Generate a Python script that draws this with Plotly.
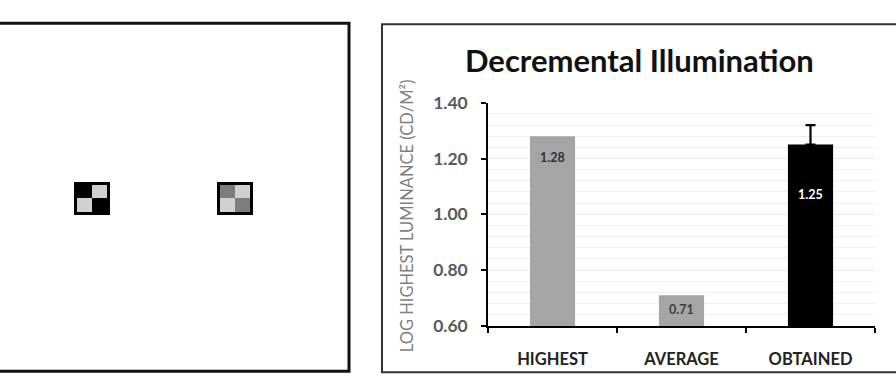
import plotly.graph_objects as go

W, H = 896, 386

# ---- data ----
categories = ["HIGHEST", "AVERAGE", "OBTAINED"]
values = [1.28, 0.71, 1.25]
err_plus = [0, 0, 0.07]
bar_colors = ["#a5a5a5", "#a5a5a5", "#000000"]
label_colors = ["#333333", "#404040", "#ffffff"]
label_offsets = [-21, -14, -50]
y_ticks = [0.60, 0.80, 1.00, 1.20, 1.40]

# checkerboard stimuli (0 = black, 1 = mid grey, 2 = light grey), bottom row first
checker_left = [[2, 0], [0, 2]]
checker_right = [[2, 1], [1, 2]]


def px(x):
    return x / W


def py(y):
    return 1 - y / H


fig = go.Figure()

fig.add_trace(go.Bar(
    x=categories, y=values,
    marker=dict(color=bar_colors, line=dict(width=0)),
    width=0.35,
    hoverinfo="skip", showlegend=False,
    xaxis="x", yaxis="y",
))

# error bars only where an error is given
e_idx = [i for i, e in enumerate(err_plus) if e > 0]
fig.add_trace(go.Scatter(
    x=[categories[i] for i in e_idx], y=[values[i] for i in e_idx],
    mode="markers", marker=dict(size=1, opacity=0),
    error_y=dict(type="data", symmetric=False, array=[err_plus[i] for i in e_idx],
                 arrayminus=[0 for _ in e_idx], color="#000000", thickness=2.2, width=5),
    hoverinfo="skip", showlegend=False, xaxis="x", yaxis="y",
))

for i, (c, v) in enumerate(zip(categories, values)):
    fig.add_annotation(x=c, y=v, xref="x", yref="y", text=f"{v:.2f}",
                       showarrow=False, yshift=label_offsets[i],
                       font=dict(family="Lato", size=12.5, color=label_colors[i], weight="bold"))

cs = [[0, "#000000"], [0.5, "#7d7d7d"], [1, "#d0d0d0"]]
fig.add_trace(go.Heatmap(z=checker_left, colorscale=cs, zmin=0, zmax=2, showscale=False,
                         hoverinfo="skip", xaxis="x2", yaxis="y2"))
fig.add_trace(go.Heatmap(z=checker_right, colorscale=cs, zmin=0, zmax=2, showscale=False,
                         hoverinfo="skip", xaxis="x3", yaxis="y3"))

sq_ax = dict(showgrid=False, zeroline=False, showticklabels=False, ticks="",
             showline=True, linecolor="#000000", linewidth=3, mirror=True, fixedrange=True)

fig.update_layout(
    width=W, height=H,
    margin=dict(l=0, r=0, t=0, b=0),
    paper_bgcolor="#ffffff", plot_bgcolor="#ffffff",
    font=dict(family="Lato"),
    bargap=0.65,
    xaxis=dict(domain=[px(488), px(875)], range=[-0.5, 2.5],
               showline=True, linecolor="#000000", linewidth=2,
               ticks="outside", tickson="boundaries", ticklen=5, tickcolor="#000000", tickwidth=1.5,
               showgrid=False, ticklabelstandoff=17,
               tickfont=dict(family="Lato", size=16.5, color="#222222", weight="bold"),
               anchor="y"),
    yaxis=dict(domain=[py(333), py(97)], range=[0.6, 1.4],
               tickvals=y_ticks, tickformat=".2f",
               showline=True, linecolor="#000000", linewidth=1.5,
               ticks="outside", ticklen=5, tickcolor="#000000", tickwidth=1.5,
               showgrid=True, gridcolor="#ebebeb", gridwidth=1,
               minor=dict(dtick=0.04, showgrid=True, gridcolor="#efefef", gridwidth=1),
               zeroline=False, ticklabelstandoff=10,
               tickfont=dict(family="Lato", size=17.5, color="#5a5a5a", weight="bold"),
               anchor="x"),
    xaxis2=dict(domain=[px(77), px(107)], range=[-0.5, 1.5], anchor="y2", **sq_ax),
    yaxis2=dict(domain=[py(213), py(184)], range=[-0.5, 1.5], anchor="x2", **sq_ax),
    xaxis3=dict(domain=[px(220), px(250)], range=[-0.5, 1.5], anchor="y3", **sq_ax),
    yaxis3=dict(domain=[py(213), py(184)], range=[-0.5, 1.5], anchor="x3", **sq_ax),
)

# panel frames
fig.add_shape(type="rect", xref="paper", yref="paper",
              x0=px(-5), x1=px(349), y0=py(381), y1=py(13),
              line=dict(color="#111111", width=3), layer="below")
fig.add_shape(type="rect", xref="paper", yref="paper",
              x0=px(382), x1=px(905), y0=py(382), y1=py(14),
              line=dict(color="#333333", width=2), layer="below")

# title
fig.add_annotation(xref="paper", yref="paper", x=px(639), y=py(52),
                   xanchor="center", yanchor="middle",
                   text="<b>Decremental Illumination</b>", showarrow=False,
                   font=dict(family="Lato", size=31, color="#111111"))

# y-axis title
fig.add_annotation(xref="paper", yref="paper", x=px(407), y=py(217),
                   xanchor="center", yanchor="middle",
                   text="LOG HIGHEST LUMINANCE (CD/M²)", textangle=-90, showarrow=False,
                   font=dict(family="Lato", size=16.5, color="#7f7f7f"))

fig.write_html("out.html", config={"displayModeBar": False})
